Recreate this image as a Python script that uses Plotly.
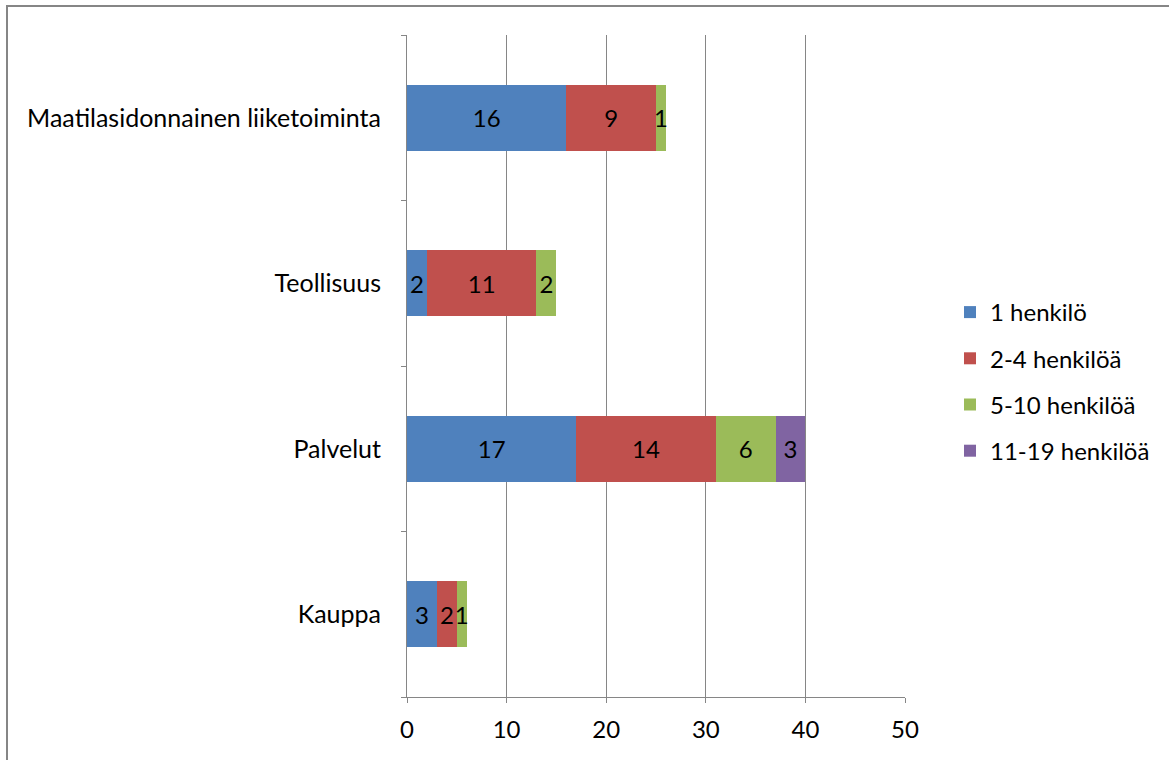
import plotly.graph_objects as go

# Toimialat (alhaalta ylös) ja yritysten henkilöstökokoluokat
categories = ["Kauppa", "Palvelut", "Teollisuus", "Maatilasidonnainen liiketoiminta"]
series_names = ["1 henkilö", "2-4 henkilöä", "5-10 henkilöä", "11-19 henkilöä"]
values_1 = [3, 17, 2, 16]
values_2_4 = [2, 14, 11, 9]
values_5_10 = [1, 6, 2, 1]
values_11_19 = [None, 3, None, None]
colors = ["#4F81BD", "#C0504D", "#9BBB59", "#8064A2"]
x_ticks = [0, 10, 20, 30, 40, 50]

FONT = "Lato"
FS = 24
GRID = "#868686"

fig = go.Figure()
for i, (name, vals, col) in enumerate(zip(series_names,
                                          [values_1, values_2_4, values_5_10, values_11_19],
                                          colors)):
    fig.add_trace(go.Bar(
        y=categories, x=vals, name=name, orientation="h",
        marker=dict(color=col, line=dict(width=0)),
        text=vals, texttemplate="%{x}", textposition="inside",
        insidetextanchor="middle", textangle=0,
        insidetextfont=dict(color="black", size=FS, family=FONT),
        legendgroup=f"g{i}",
    ))

W, H = 1169, 760
L, R, T, B = 407, 264, 35, 63
pw, ph = W - L - R, H - T - B

def px_x(p):
    return (p - L) / pw

def px_y(p):
    return (H - B - p) / ph

fig.update_layout(
    width=W, height=H,
    margin=dict(l=L, r=R, t=T, b=B, pad=0),
    barmode="stack", bargap=0.6,
    paper_bgcolor="white", plot_bgcolor="white",
    font=dict(family=FONT, size=FS, color="black"),
    uniformtext=dict(minsize=FS, mode="show"),
    showlegend=True,
    legend=dict(
        x=px_x(950), y=px_y(290), xanchor="left", yanchor="top",
        traceorder="grouped", tracegroupgap=12,
        font=dict(size=FS, family=FONT), itemwidth=30,
        bgcolor="rgba(0,0,0,0)",
    ),
    xaxis=dict(
        range=[0, 50], tickvals=x_ticks, showgrid=True, gridcolor=GRID, gridwidth=1,
        showline=True, linecolor=GRID, linewidth=1,
        ticks="outside", ticklen=5, tickcolor=GRID, zeroline=False,
        tickfont=dict(size=FS, family=FONT), ticklabelstandoff=6,
    ),
    yaxis=dict(
        type="category", categoryorder="array", categoryarray=categories,
        showline=True, linecolor=GRID, linewidth=1, showgrid=False,
        ticks="outside", ticklen=5, tickcolor=GRID, tickson="boundaries",
        tickfont=dict(size=25, family=FONT), ticklabelstandoff=20,
    ),
    shapes=[dict(
        type="rect", xref="paper", yref="paper",
        x0=px_x(7), x1=px_x(1180), y0=px_y(780), y1=px_y(6),
        line=dict(color=GRID, width=2), fillcolor="rgba(0,0,0,0)", layer="below",
    )],
)

fig.write_html("out.html")
